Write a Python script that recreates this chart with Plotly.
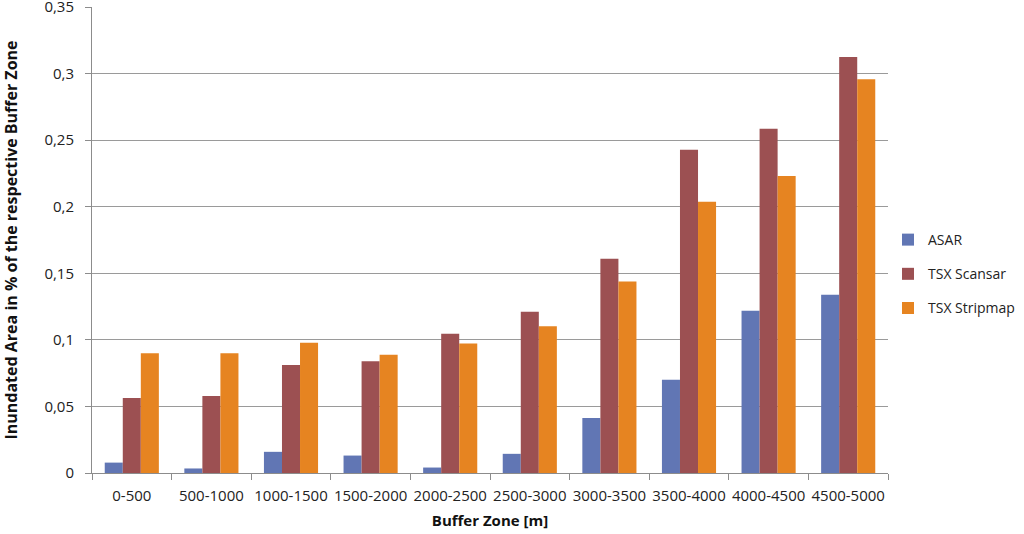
import plotly.graph_objects as go

categories = ["0-500", "500-1000", "1000-1500", "1500-2000", "2000-2500",
              "2500-3000", "3000-3500", "3500-4000", "4000-4500", "4500-5000"]
asar = [0.0078, 0.0034, 0.0159, 0.0131, 0.0041, 0.0144, 0.0414, 0.0700, 0.1218, 0.1338]
tsx_scansar = [0.0564, 0.0579, 0.0812, 0.0840, 0.1045, 0.1212, 0.1610, 0.2427, 0.2585, 0.3125]
tsx_stripmap = [0.0900, 0.0900, 0.0978, 0.0888, 0.0973, 0.1103, 0.1438, 0.2038, 0.2231, 0.2958]
y_ticks = [0, 0.05, 0.1, 0.15, 0.2, 0.25, 0.3, 0.35]

font_family = "'Open Sans', 'Noto Sans', sans-serif"

fig = go.Figure()
series = [("ASAR", asar, "#6176B4"),
          ("TSX Scansar", tsx_scansar, "#9C5052"),
          ("TSX Stripmap", tsx_stripmap, "#E68421")]
for name, vals, col in series:
    fig.add_trace(go.Bar(x=categories, y=vals, name=name, legendgroup=name,
                         marker=dict(color=col, line=dict(width=0))))

fig.update_layout(
    width=1024, height=534,
    margin=dict(l=92, r=136, t=7, b=61, autoexpand=False),
    paper_bgcolor="white", plot_bgcolor="white",
    barmode="group", bargap=0.32, bargroupgap=0,
    separators=",.",
    font=dict(family=font_family, size=15, color="#222"),
    legend=dict(x=1.0, y=0.427, xanchor="left", yanchor="middle",
                font=dict(size=14, color="#222"), tracegroupgap=13,
                itemwidth=30, bgcolor="rgba(0,0,0,0)"),
    showlegend=True,
)
fig.update_xaxes(
    title=dict(text="<b>Buffer Zone [m]</b>", font=dict(size=15, color="#111"), standoff=11),
    showline=True, linecolor="#8c8c8c", linewidth=1,
    ticks="outside", tickson="boundaries", ticklen=6, tickcolor="#8c8c8c",
    showgrid=False, tickangle=0, automargin=False, ticklabelstandoff=9,
    tickfont=dict(size=15, color="#222"),
)
fig.update_yaxes(
    title=dict(text="<b>Inundated Area in % of the respective Buffer Zone</b>",
               font=dict(size=16, color="#111"), standoff=22),
    range=[0, 0.35], tickvals=y_ticks, automargin=False,
    ticklabeloverflow="allow", ticklabelstandoff=8,
    showline=True, linecolor="#8c8c8c", linewidth=1,
    ticks="outside", ticklen=6, tickcolor="#8c8c8c",
    showgrid=False,
    minor=dict(tickvals=y_ticks[:-1], showgrid=True, gridcolor="#9a9a9a",
               gridwidth=1, ticks=""),
    zeroline=False, tickfont=dict(size=15, color="#222"),
)

fig.write_html("out.html", config={"displayModeBar": False},
               post_script="document.body.style.margin='0';document.body.style.overflow='hidden';")
